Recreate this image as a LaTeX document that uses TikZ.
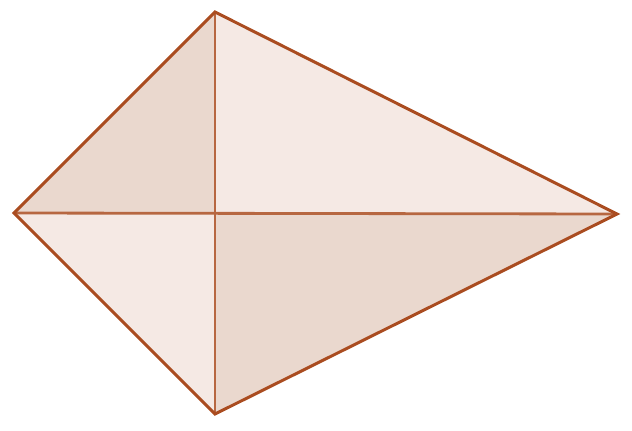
\documentclass[tikz,border=0pt]{standalone}
\usepackage{tikz}
\definecolor{kiteline}{RGB}{170, 76, 32}
\definecolor{kitedark}{RGB}{234, 216, 206}
\definecolor{kitelight}{RGB}{245, 233, 228}

\begin{document}
\begin{tikzpicture}[x=0.02cm, y=-0.02cm,
        edge/.style={draw=kiteline, line width=1.7pt, line join=miter},
        diag/.style={draw=kiteline!85!white, line width=1.6pt}]
        \useasboundingbox (0,0) rectangle (632,430);
        \coordinate (left) at (14,213);
        \coordinate (top) at (215,12);
        \coordinate (right) at (617,214);
        \coordinate (bottom) at (215,414);
        \coordinate (mid) at (215,213.3);

        \fill[kitedark] (left) -- (top) -- (mid) -- cycle;
        \fill[kitelight] (top) -- (right) -- (mid) -- cycle;
        \fill[kitedark] (right) -- (bottom) -- (mid) -- cycle;
        \fill[kitelight] (bottom) -- (left) -- (mid) -- cycle;

        \draw[diag] (left) -- (right);
        \draw[diag] (top) -- (bottom);
        \draw[edge] (left) -- (top) -- (right) -- (bottom) -- cycle;
    \end{tikzpicture}
\end{document}
